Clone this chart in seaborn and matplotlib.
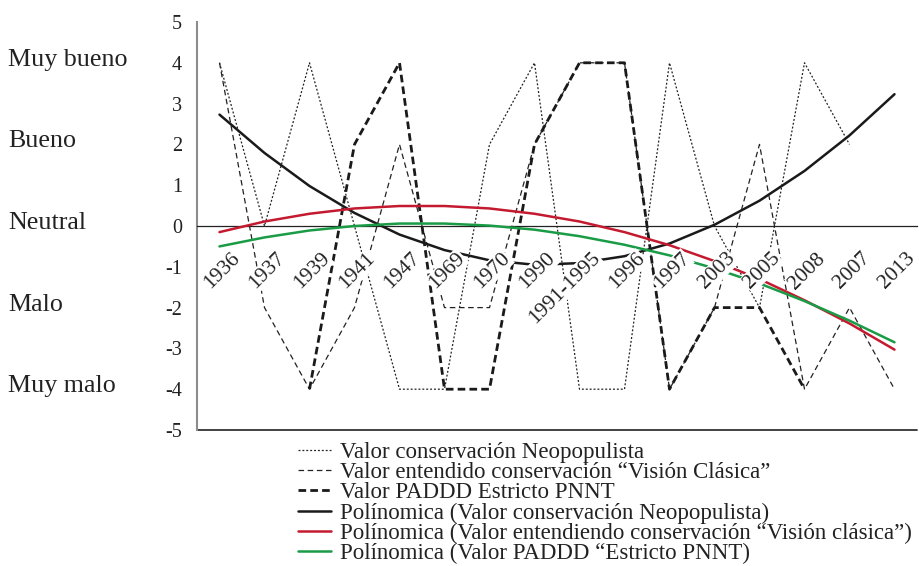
import numpy as np
import pandas as pd
import seaborn as sns
import matplotlib.pyplot as plt
from matplotlib.transforms import ScaledTranslation, blended_transform_factory

sns.set_style("white")
plt.rcParams['font.family'] = ['Liberation Serif', 'DejaVu Serif']
plt.rcParams['lines.scale_dashes'] = False
plt.rcParams['axes.unicode_minus'] = False

# categories on the x axis (kept in the original order)
years = ['1936', '1937', '1939', '1941', '1947', '1969', '1970', '1990',
         '1991-1995', '1996', '1997', '2003', '2005', '2008', '2007', '2013']

# observed values
neopopulista = [4, 0, 4, 0, -4, -4, 2, 4, -4, -4, 4, 0, -2, 4, 2, np.nan]
vision_clasica = [4, -2, -4, -2, 2, -2, -2, 2, 4, 4, -4, -2, 2, -4, -2, -4]
paddd_estricto = [np.nan, np.nan, -4, 2, 4, -4, -4, 2, 4, 4, -4, -2, -2, -4, np.nan, np.nan]

# polynomial trend lines at every category
trend_neopopulista = [2.73, 1.79, 0.98, 0.32, -0.21, -0.59, -0.84, -0.95,
                      -0.91, -0.74, -0.43, 0.03, 0.62, 1.35, 2.22, 3.23]
trend_clasica = [-0.15, 0.11, 0.30, 0.43, 0.49, 0.49, 0.43, 0.30,
                 0.11, -0.15, -0.47, -0.86, -1.30, -1.82, -2.39, -3.03]
trend_paddd = [-0.50, -0.28, -0.11, 0.00, 0.06, 0.06, 0.01, -0.09,
               -0.25, -0.46, -0.72, -1.04, -1.41, -1.84, -2.32, -2.85]

level_labels = ['Muy bueno', 'Bueno', 'Neutral', 'Malo', 'Muy malo']
level_values = [4, 2, 0, -2, -4]

legend_labels = [
    'Valor conservación Neopopulista',
    'Valor entendido conservación “Visión Clásica”',
    'Valor PADDD Estricto PNNT',
    'Polínomica (Valor conservación Neopopulista)',
    'Polínomica (Valor entendiendo conservación “Visión clásica”)',
    'Polínomica (Valor PADDD “Estricto PNNT)',
]

pos = np.arange(len(years))
df = pd.DataFrame({
    'pos': pos,
    'neo': neopopulista,
    'clasica': vision_clasica,
    'paddd': paddd_estricto,
    't_neo': trend_neopopulista,
    't_clasica': trend_clasica,
    't_paddd': trend_paddd,
})

# column, colour, width, dash pattern (points), zorder
styles = [
    ('neo', '#222222', 0.9, (1.4, 1.4), 2),
    ('clasica', '#222222', 0.9, (4.0, 2.6), 2),
    ('paddd', '#1a1a1a', 2.0, (5.5, 3.0), 2),
    ('t_neo', '#1a1a1a', 1.8, None, 3),
    ('t_clasica', '#c41a30', 1.8, None, 3),
    ('t_paddd', '#1a9b46', 1.8, None, 3),
]

fig = plt.figure(figsize=(9.19, 5.66), dpi=100)
ax = fig.add_axes([197 / 919, 136 / 566, 720 / 919, 408 / 566])

handles = []
for (col, color, lw, dashes, z), lab in zip(styles, legend_labels):
    sub = df[['pos', col]].dropna()
    sns.lineplot(data=sub, x='pos', y=col, ax=ax, color=color, linewidth=lw,
                 estimator=None, sort=False, legend=False, zorder=z)
    line = ax.lines[-1]
    if dashes:
        line.set_dashes(dashes)
    line.set_label(lab)
    handles.append(line)

ax.set_xlim(-0.5, 15.5)
ax.set_ylim(-5, 5)
ax.set_xlabel('')
ax.set_ylabel('')

# category axis crosses at zero
ax.spines['bottom'].set_position(('data', 0))
ax.spines['bottom'].set_color('#222222')
ax.spines['bottom'].set_linewidth(0.9)
ax.spines['left'].set_color('#8c8c8c')
ax.spines['left'].set_linewidth(1.5)
ax.spines['top'].set_visible(False)
ax.spines['right'].set_visible(False)
ax.axhline(-5, color='#333333', lw=1.3, clip_on=False)

ax.set_xticks(np.arange(-0.5, 16, 1))
ax.set_xticklabels([])
ax.tick_params(axis='x', direction='out', length=8.6, width=0.8, color='#222222')
ax.set_yticks(range(-5, 6))
ax.tick_params(axis='y', direction='in', length=9.4, width=0.8, pad=10.8,
               labelsize=14.5, color='#222222', labelcolor='#222222')

offset = ScaledTranslation(0.11, -0.23, fig.dpi_scale_trans)
for p, yr in zip(pos, years):
    ax.text(p, 0, yr, transform=ax.transData + offset, rotation=45,
            ha='right', va='top', rotation_mode='anchor', fontsize=15.5,
            color='#222222', zorder=5,
            bbox=dict(facecolor='white', edgecolor='none', pad=0.5))

lvl_tr = blended_transform_factory(fig.transFigure, ax.transData) + \
    ScaledTranslation(0, -0.03, fig.dpi_scale_trans)
for v, t in zip(level_values, level_labels):
    ax.text(8 / 919, v, t, transform=lvl_tr, ha='left', va='baseline',
            fontsize=18.7, color='#222222')

fig.legend(handles, legend_labels, loc='upper left',
           bbox_to_anchor=(298 / 919, 1 - 442 / 566), frameon=False,
           fontsize=16.5, handlelength=1.45, handletextpad=0.38,
           labelspacing=-0.04, borderpad=0, borderaxespad=0,
           labelcolor='#222222')

fig.savefig('out.png', dpi=100)
